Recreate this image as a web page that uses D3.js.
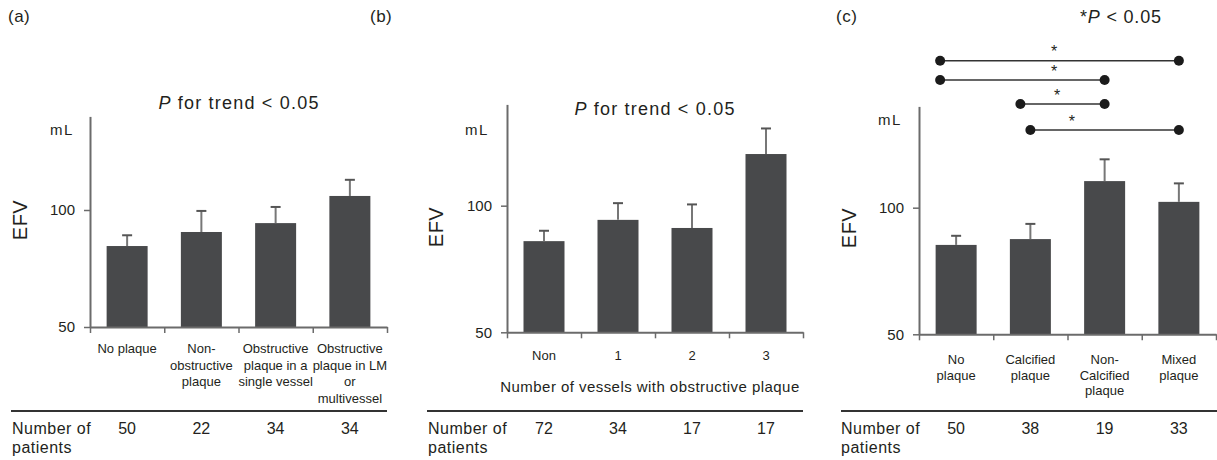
<!DOCTYPE html>
<html>
<head>
<meta charset="utf-8">
<script src="https://cdn.jsdelivr.net/npm/d3@7"></script>
<style>
  body { margin: 0; background: #fff; }
  svg text { font-family: "Liberation Sans", Arial, sans-serif; fill: #231f20; }
</style>
</head>
<body>
<div id="chart"></div>
<script>
// Data
const panelLabels = ['(a)', '(b)', '(c)'];
const yDomain = [50, 140];
const yTicks = [50, 100];

// (a) plaque type by obstruction
const catsA = [['No plaque'], ['Non-', 'obstructive', 'plaque'], ['Obstructive', 'plaque in a', 'single vessel'], ['Obstructive', 'plaque in LM', 'or', 'multivessel']];
const meanA = [84.6, 90.6, 94.4, 106.0];
const seA = [4.6, 9.0, 6.9, 6.9];
const nA = [50, 22, 34, 34];

// (b) number of vessels
const catsB = [['Non'], ['1'], ['2'], ['3']];
const meanB = [86.0, 94.4, 91.2, 120.4];
const seB = [4.1, 6.6, 9.3, 10.1];
const nB = [72, 34, 17, 17];

// (c) plaque composition
const catsC = [['No', 'plaque'], ['Calcified', 'plaque'], ['Non-', 'Calcified', 'plaque'], ['Mixed', 'plaque']];
const meanC = [85.3, 87.6, 110.5, 102.3];
const seC = [3.6, 6.0, 8.6, 7.3];
const nC = [50, 38, 19, 33];
const pairsC = [[0, 3], [0, 2], [1, 2], [1, 3]];

const titles = ['for trend < 0.05', 'for trend < 0.05', null];

// Layout (pixels)
const width = 1217;
const height = 460;
const barColor = '#48494b';
const axisColor = '#6b6b6b';

const panels = [
  {cats: catsA, mean: meanA, se: seA, n: nA, x0: 90, x1: 387, yBase: 327, yTop: 116.4,
   label: {x: 8, y: 22}, title: {x: 239, y: 109}, mL: {x: 50, y: 135}, efv: {x: 27, y: 220},
   tickY: 353, lineH: 16.5, sepX0: 11, rowX: 12},
  {cats: catsB, mean: meanB, se: seB, n: nB, x0: 507, x1: 803, yBase: 332.3, yTop: 104.4,
   label: {x: 370, y: 22}, title: {x: 655, y: 115}, mL: {x: 465, y: 135}, efv: {x: 443, y: 227},
   tickY: 360, lineH: 16, sepX0: 427, rowX: 428, xlabel: {x: 650, y: 392, text: 'Number of vessels with obstructive plaque'}},
  {cats: catsC, mean: meanC, se: seC, n: nC, x0: 919, x1: 1216, yBase: 334.3, yTop: 106.4,
   label: {x: 836, y: 22}, title: null, mL: {x: 878, y: 125}, efv: {x: 856, y: 228},
   tickY: 364, lineH: 15.5, sepX0: 841, rowX: 841}
];

// significance brackets in (c): line y, end offsets, star position (in category units)
const sigY = [60.7, 80, 104, 130];
const sigDx = [[-16, 0], [-16, 0], [-10, 0], [0, 0]];
const sigStarAt = [1.82, 1.82, 1.86, 2.06];

const svg = d3.select('#chart').append('svg')
  .attr('width', width)
  .attr('height', height);

panels.forEach((p, i) => {
  const g = svg.append('g');
  const n = p.cats.length;

  const y = d3.scaleLinear().domain(yDomain).range([p.yBase, p.yTop]);
  const xBand = d3.scaleBand().domain(d3.range(n)).range([p.x0, p.x1]).padding(0);
  const xPos = d3.scaleLinear().domain([0, n]).range([p.x0, p.x1]);
  const barW = 41;
  const cx = j => xBand(j) + xBand.bandwidth() / 2;

  // bars
  g.selectAll('rect.bar')
    .data(p.mean)
    .enter()
    .append('rect')
    .attr('class', 'bar')
    .attr('x', (d, j) => cx(j) - barW / 2)
    .attr('width', barW)
    .attr('y', d => y(d))
    .attr('height', d => y(yDomain[0]) - y(d))
    .attr('fill', barColor);

  // upper error bars
  const err = g.selectAll('g.err')
    .data(p.mean)
    .enter()
    .append('g')
    .attr('class', 'err');
  err.append('line')
    .attr('x1', (d, j) => cx(j))
    .attr('x2', (d, j) => cx(j))
    .attr('y1', d => y(d))
    .attr('y2', (d, j) => y(d + p.se[j]))
    .attr('stroke', '#777')
    .attr('stroke-width', 2);
  err.append('line')
    .attr('x1', (d, j) => cx(j) - 5)
    .attr('x2', (d, j) => cx(j) + 5)
    .attr('y1', (d, j) => y(d + p.se[j]))
    .attr('y2', (d, j) => y(d + p.se[j]))
    .attr('stroke', '#555')
    .attr('stroke-width', 2);

  // y axis
  const yAxis = g.append('g')
    .attr('transform', `translate(${p.x0},0)`)
    .call(d3.axisLeft(y).tickValues(yTicks).tickSize(6).tickSizeOuter(0).tickPadding(9));
  yAxis.select('.domain').attr('stroke', axisColor).attr('stroke-width', 2);
  yAxis.selectAll('.tick line').attr('stroke', axisColor).attr('stroke-width', 1.5);
  yAxis.selectAll('.tick text')
    .attr('font-size', 15)
    .attr('fill', '#231f20')
    .style('font-family', '"Liberation Sans", Arial, sans-serif');

  // x axis with ticks on category boundaries
  const xAxis = g.append('g')
    .attr('transform', `translate(0,${p.yBase})`)
    .call(d3.axisBottom(xPos).tickValues(d3.range(n + 1)).tickFormat('').tickSize(6).tickSizeOuter(0));
  xAxis.select('.domain').attr('stroke', axisColor).attr('stroke-width', 2);
  xAxis.selectAll('.tick line').attr('stroke', axisColor).attr('stroke-width', 1.5);

  // category labels
  g.selectAll('text.cat')
    .data(p.cats)
    .enter()
    .append('text')
    .attr('class', 'cat')
    .attr('text-anchor', 'middle')
    .attr('font-size', 13)
    .attr('fill', '#333')
    .each(function(lines, j) {
      d3.select(this).selectAll('tspan')
        .data(lines)
        .enter()
        .append('tspan')
        .attr('x', cx(j))
        .attr('y', (l, k) => p.tickY + k * p.lineH)
        .text(l => l);
    });

  // unit and axis title
  g.append('text')
    .attr('x', p.mL.x).attr('y', p.mL.y)
    .attr('font-size', 15).attr('letter-spacing', 1.5)
    .text('mL');
  g.append('text')
    .attr('transform', `translate(${p.efv.x},${p.efv.y}) rotate(-90)`)
    .attr('text-anchor', 'middle')
    .attr('font-size', 20).attr('letter-spacing', 0.5)
    .text('EFV');

  // panel label
  g.append('text')
    .attr('x', p.label.x).attr('y', p.label.y)
    .attr('font-size', 17).attr('letter-spacing', 0.5)
    .text(panelLabels[i]);

  // trend title
  if (titles[i]) {
    const t = g.append('text')
      .attr('x', p.title.x).attr('y', p.title.y)
      .attr('text-anchor', 'middle')
      .attr('font-size', 18).attr('letter-spacing', 1.2);
    t.append('tspan').attr('font-style', 'italic').text('P');
    t.append('tspan').text(' ' + titles[i]);
  }

  if (p.xlabel) {
    g.append('text')
      .attr('x', p.xlabel.x).attr('y', p.xlabel.y)
      .attr('text-anchor', 'middle')
      .attr('font-size', 15).attr('letter-spacing', 0.45)
      .text(p.xlabel.text);
  }

  // separator + patient counts
  g.append('line')
    .attr('x1', p.sepX0).attr('x2', p.x1 + (i === 2 ? 1 : 0))
    .attr('y1', 411).attr('y2', 411)
    .attr('stroke', '#333').attr('stroke-width', 2);
  const row = g.append('text')
    .attr('x', p.rowX).attr('y', 434)
    .attr('font-size', 16).attr('letter-spacing', 0.5);
  row.append('tspan').attr('x', p.rowX).attr('y', 434).text('Number of');
  row.append('tspan').attr('x', p.rowX).attr('y', 453).text('patients');
  g.selectAll('text.count')
    .data(p.n)
    .enter()
    .append('text')
    .attr('class', 'count')
    .attr('x', (d, j) => cx(j))
    .attr('y', 434)
    .attr('text-anchor', 'middle')
    .attr('font-size', 16)
    .text(d => d);

  // significance brackets for (c)
  if (i === 2) {
    const sig = g.selectAll('g.sig')
      .data(pairsC)
      .enter()
      .append('g')
      .attr('class', 'sig');
    sig.append('line')
      .attr('x1', (d, k) => cx(d[0]) + sigDx[k][0])
      .attr('x2', (d, k) => cx(d[1]) + sigDx[k][1])
      .attr('y1', (d, k) => sigY[k])
      .attr('y2', (d, k) => sigY[k])
      .attr('stroke', '#333')
      .attr('stroke-width', 1.5);
    sig.append('circle')
      .attr('cx', (d, k) => cx(d[0]) + sigDx[k][0])
      .attr('cy', (d, k) => sigY[k])
      .attr('r', 5)
      .attr('fill', '#1b1b1b');
    sig.append('circle')
      .attr('cx', (d, k) => cx(d[1]) + sigDx[k][1])
      .attr('cy', (d, k) => sigY[k])
      .attr('r', 5)
      .attr('fill', '#1b1b1b');
    sig.append('text')
      .attr('x', (d, k) => xPos(sigStarAt[k]))
      .attr('y', (d, k) => sigY[k] - 3.5)
      .attr('text-anchor', 'middle')
      .attr('font-size', 16)
      .attr('fill', '#555')
      .text('*');

    const note = g.append('text')
      .attr('x', 1080).attr('y', 23)
      .attr('font-size', 18).attr('letter-spacing', 0.8);
    note.append('tspan').text('*');
    note.append('tspan').attr('font-style', 'italic').text('P');
    note.append('tspan').text(' < 0.05');
  }
});
</script>
</body>
</html>
